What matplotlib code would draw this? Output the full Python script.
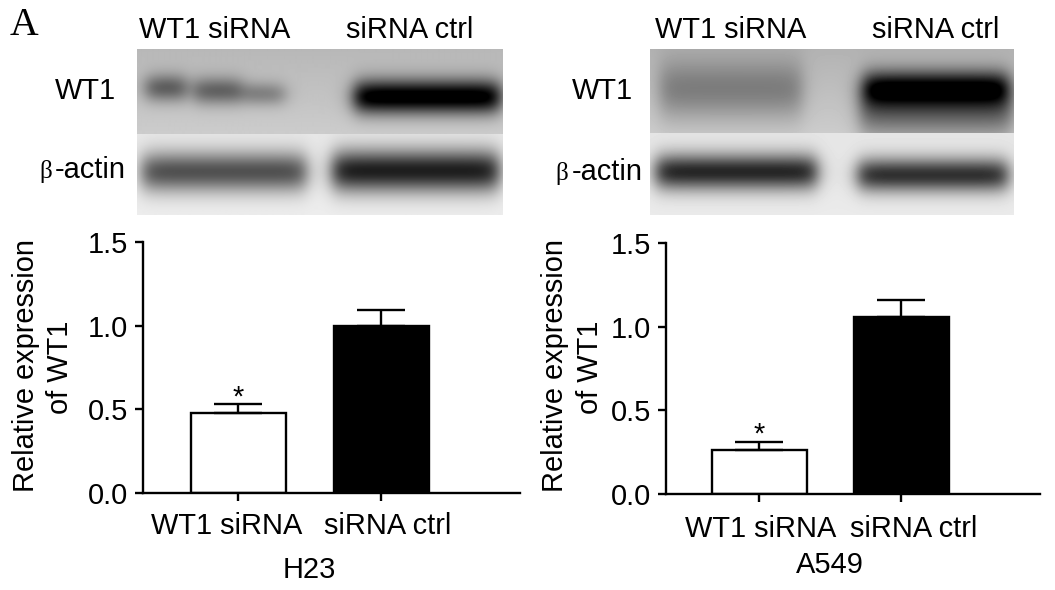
import numpy as np
import matplotlib
matplotlib.use("Agg")
from matplotlib import pyplot as plt
from matplotlib.transforms import ScaledTranslation

plt.rcParams['font.family'] = ['Liberation Sans', 'DejaVu Sans']

W, H = 1055, 590
FS = 20.9

groups = ["WT1 siRNA", "siRNA ctrl"]
h23_values = [0.48, 1.00]
h23_errors = [0.052, 0.093]
a549_values = [0.26, 1.06]
a549_errors = [0.048, 0.10]
yticks = [0.0, 0.5, 1.0, 1.5]

# western blot bands: x0, x1, y centre, y spread, darkness (in pixels of the picture)
h23_wt1 = [(146, 186, 88, 14, 0.40), (194, 242, 91, 14, 0.38), (244, 284, 94, 12, 0.26),
           (354, 499, 97, 17, 0.84)]
h23_actin = [(142, 306, 172, 20, 0.60), (332, 498, 171, 21, 0.80)]
a549_wt1 = [(660, 802, 90, 30, 0.26), (864, 1008, 88, 17, 0.62), (860, 1012, 108, 28, 0.42)]
a549_actin = [(656, 817, 172, 18, 0.76), (858, 1008, 175, 17, 0.72)]

fig = plt.figure(figsize=(W / 100, H / 100), dpi=100)


def box(left, top, right, bottom):
    return [left / W, 1 - bottom / H, (right - left) / W, (bottom - top) / H]


def put(x, y, s, **kw):
    kw.setdefault('fontsize', FS)
    kw.setdefault('va', 'baseline')
    fig.text(x / W, 1 - y / H, s, **kw)


def blot(left, top, right, bottom, bands, bg_top, bg_bottom):
    ax = fig.add_axes(box(left, top, right, bottom))
    x = np.arange(left, right) + 0.5
    y = np.arange(top, bottom) + 0.5
    xx, yy = np.meshgrid(x, y)
    img = bg_top + (bg_bottom - bg_top) * (yy - top) / (bottom - top)
    for x0, x1, yc, sy, dark in bands:
        across = 0.5 * (np.tanh((xx - x0) / 10) - np.tanh((xx - x1) / 10))
        img = img - dark * across * np.exp(-((yy - yc) / sy) ** 2)
    ax.imshow(np.clip(img, 0, 1), cmap='gray', vmin=0, vmax=1, aspect='auto',
              interpolation='bilinear')
    ax.axis('off')


def bars(left, top, right, bottom, tick0, tick1, values, errors, label_shift, star_shift, pad):
    ax = fig.add_axes(box(left, top, right, bottom))
    step = tick1 - tick0
    pos = np.arange(len(groups))
    ax.bar(pos, values, width=95 / step, color=['white', 'black'], edgecolor='black', linewidth=1.7)
    ax.errorbar(pos, values, yerr=[[0, 0], errors], fmt='none', ecolor='black', elinewidth=1.7,
                capsize=17, capthick=1.7)
    ax.set_xlim((left - tick0) / step, (right - tick0) / step)
    ax.set_ylim(0, 1.5)
    ax.set_yticks(yticks)
    ax.set_yticklabels(["%.1f" % t for t in yticks], fontsize=FS)
    ax.set_xticks(pos)
    ax.set_xticklabels(groups, fontsize=FS)
    ax.tick_params(width=1.7, length=5.5, pad=5)
    ax.tick_params(axis='x', pad=pad)
    for lab, dx in zip(ax.get_xticklabels(), label_shift):
        lab.set_transform(lab.get_transform() + ScaledTranslation(dx / 100, 0, fig.dpi_scale_trans))
    for s in ['top', 'right']:
        ax.spines[s].set_visible(False)
    for s in ['left', 'bottom']:
        ax.spines[s].set_linewidth(1.7)
    ax.annotate("*", (pos[0], values[0] + errors[0]), xytext=(0, star_shift),
                textcoords='offset points', ha='center', va='baseline', fontsize=FS)
    return ax


blot(137, 49, 502, 134, h23_wt1, 0.72, 0.80)
blot(137, 134, 502, 215, h23_actin, 0.91, 0.93)
blot(650, 49, 1014, 133, a549_wt1, 0.70, 0.80)
blot(650, 133, 1014, 215, a549_actin, 0.90, 0.92)

bars(143, 241.7, 520, 493.3, 238, 381, h23_values, h23_errors, [-11, 7], -1, 8)
bars(666, 243, 1040, 494, 759, 901, a549_values, a549_errors, [2, 13], 0, 9.5)

for xa, xb in [(34, 68), (563, 598)]:
    put(xa, 366, "Relative expression", rotation=90, rotation_mode='anchor', ha='center')
    put(xb, 367, "of WT1", rotation=90, rotation_mode='anchor', ha='center')

put(10, 35, "A", fontsize=28.5, family='Liberation Serif')
put(139, 38, groups[0])
put(346, 38, groups[1])
put(655, 38, groups[0])
put(872, 38, groups[1])
put(55, 99, "WT1")
put(572, 99, "WT1")
put(39, 178, "\u03b2", fontsize=18, family='Liberation Serif')
put(126, 178, "-actin", ha='right')
put(555, 180, "\u03b2", fontsize=18, family='Liberation Serif')
put(643, 180, "-actin", ha='right')
put(309, 578, "H23", ha='center')
put(830, 573, "A549", ha='center')

fig.savefig("out.png", dpi=100)
